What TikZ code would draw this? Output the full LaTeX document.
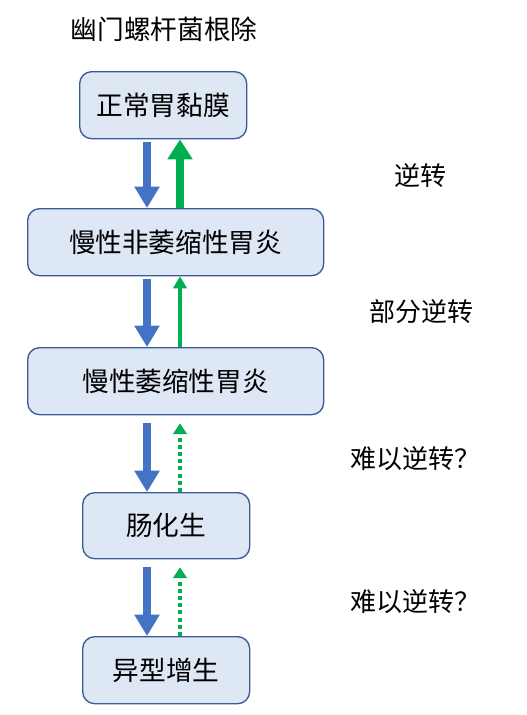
\documentclass[tikz,border=0pt]{standalone}
\usepackage{fontspec}
\newfontfamily\cjk{Noto Sans CJK SC}
\usetikzlibrary{arrows.meta}
\definecolor{boxfill}{HTML}{DEE7F4}
\definecolor{boxline}{HTML}{3A5A9A}
\definecolor{downblue}{HTML}{4472C4}
\definecolor{upgreen}{HTML}{00B050}
\tikzset{
  stage/.style={draw=boxline, line width=1pt, fill=boxfill, rounded corners=9pt,
    inner sep=0pt, font=\cjk\fontsize{20}{24}\selectfont, anchor=north west},
  note/.style={font=\cjk\fontsize{19.5}{24}\selectfont, inner sep=0pt},
  downarr/.style={draw=downblue, line width=6pt,
    -{Triangle[width=18pt,length=16pt]}},
  upthick/.style={draw=upgreen, line width=6pt,
    -{Triangle[width=18pt,length=15pt]}},
  upthin/.style={draw=upgreen, line width=2.5pt,
    -{Triangle[width=10pt,length=9pt]}},
  updot/.style={draw=upgreen, line width=2.6pt, dash pattern=on 3pt off 2.4pt,
    -{Triangle[width=10pt,length=8pt]}}
}
\begin{document}
\begin{tikzpicture}[x=0.75pt,y=-0.75pt]
\useasboundingbox (0,0) rectangle (526,715);
\node[note, font=\cjk\fontsize{20}{24}\selectfont] (title) at (164,29) {幽门螺杆菌根除};
\node[stage, minimum width=167*0.75pt, minimum height=67*0.75pt] (n1) at (79,71) {正常胃黏膜};
\node[stage, minimum width=296*0.75pt, minimum height=67*0.75pt] (n2) at (27,208) {慢性非萎缩性胃炎};
\node[stage, minimum width=296*0.75pt, minimum height=67*0.75pt] (n3) at (27,347) {慢性萎缩性胃炎};
\node[stage, minimum width=167*0.75pt, minimum height=66*0.75pt] (n4) at (82,492) {肠化生};
\node[stage, minimum width=167*0.75pt, minimum height=67*0.75pt] (n5) at (82,636) {异型增生};
\node[note] (l1) at (420,176) {逆转};
\node[note] (l2) at (421,312) {部分逆转};
\node[note] (l3) at (415,459) {难以逆转？};
\node[note] (l4) at (415,602) {难以逆转？};
\coordinate (bx) at (147,0);
\coordinate (gx) at (180,0);
\draw[downarr] ([yshift=-3*0.75pt]bx |- n1.south) -- (bx |- n2.north);
\draw[downarr] ([yshift=-3*0.75pt]bx |- n2.south) -- (bx |- n3.north);
\draw[downarr] ([yshift=-8*0.75pt]bx |- n3.south) -- (bx |- n4.north);
\draw[downarr] ([yshift=-8*0.75pt]bx |- n4.south) -- (bx |- n5.north);
\draw[upthick] (gx |- n2.north) -- (gx |- n1.south);
\draw[upthin] (gx |- n3.north) -- (gx |- n2.south);
\draw[updot] (gx |- n4.north) -- ([yshift=-8*0.75pt]gx |- n3.south);
\draw[updot] (gx |- n5.north) -- ([yshift=-8*0.75pt]gx |- n4.south);
\end{tikzpicture}
\end{document}
